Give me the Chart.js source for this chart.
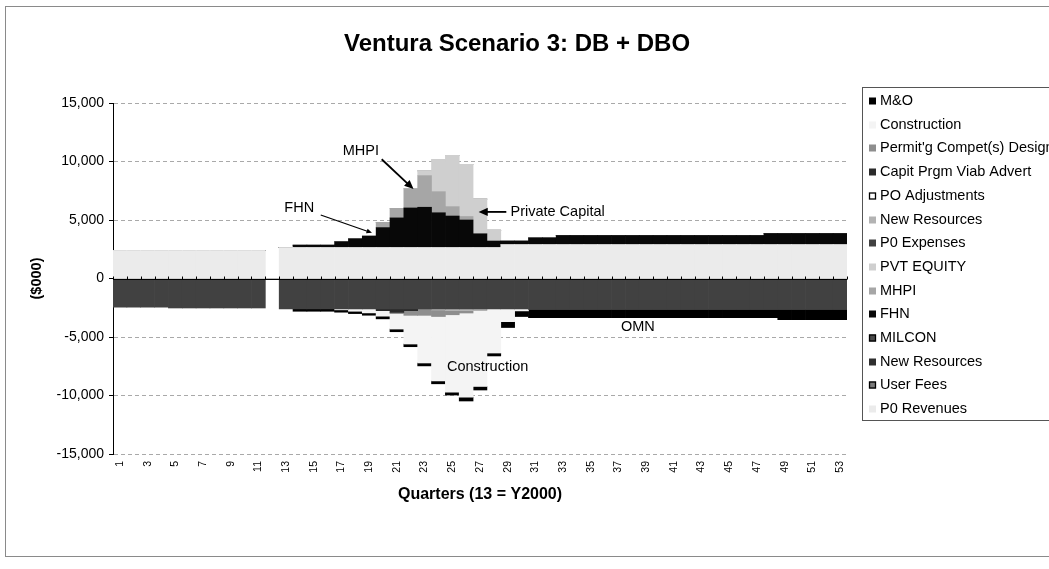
<!DOCTYPE html>
<html>
<head>
<meta charset="utf-8">
<title>Ventura Scenario 3: DB + DBO</title>
<script src="https://cdn.jsdelivr.net/npm/chart.js"></script>
<style>
	html,body{margin:0;padding:0;background:#fff;}
	#wrap{width:1049px;height:569px;overflow:hidden;background:#fff;}
</style>
</head>
<body>
<div id="wrap"><canvas id="ventura" width="1049" height="569"></canvas></div>
<script>
// quarters 1..53 (13 = Y2000)
var quarters = [1,2,3,4,5,6,7,8,9,10,11,12,13,14,15,16,17,18,19,20,
	21,22,23,24,25,26,27,28,29,30,31,32,33,34,35,36,37,38,39,40,
	41,42,43,44,45,46,47,48,49,50,51,52,53];

// ---- revenues (positive stack, bottom to top) ----
var p0Revenues = [2400,2400,2400,2400,2400,2400,2400,2400,2400,2400,
	2400,0,2650,2650,2650,2650,2650,2650,2650,2650,
	2650,2650,2650,2650,2650,2650,2650,2650,2900,2900,
	2900,2900,2900,2900,2900,2900,2900,2900,2900,2900,
	2900,2900,2900,2900,2900,2900,2900,2900,2900,2900,
	2900,2900,2900];
var userFees = [0,0,0,0,0,0,0,0,0,0, 0,0,0,0,0,0,0,0,0,0, 0,0,0,0,0,0,0,0,0,0,
	0,0,0,0,0,0,0,0,0,0, 0,0,0,0,0,0,0,0,0,0, 0,0,0];
var newResourcesIn = [0,0,0,0,0,0,0,0,0,0, 0,0,0,0,0,0,0,0,0,0, 0,0,0,0,0,0,0,0,0,0,
	0,0,0,0,0,0,0,0,0,0, 0,0,0,0,0,0,0,0,0,0, 0,0,0];
var milcon = [0,0,0,0,0,0,0,0,0,0, 0,0,0,0,0,0,0,0,0,0, 0,0,0,0,0,0,0,0,0,0,
	0,0,0,0,0,0,0,0,0,0, 0,0,0,0,0,0,0,0,0,0, 0,0,0];
var fhn = [0,0,0,0,0,0,0,0,0,0,
	0,0,0,200,200,200,500,750,970,1700,
	2530,3380,3440,2970,2690,2350,1170,550,300,300,
	580,580,780,780,780,780,780,780,780,780,
	780,780,780,780,780,780,780,950,950,950,
	950,950,950];
var mhpi = [0,0,0,0,0,0,0,0,0,0,
	0,0,0,0,0,0,0,0,0,450,
	820,1650,2700,1800,800,300,0,0,0,0,
	0,0,0,0,0,0,0,0,0,0, 0,0,0,0,0,0,0,0,0,0, 0,0,0];
var pvtEquity = [0,0,0,0,0,0,0,0,0,0,
	0,0,0,0,0,0,0,0,0,0,
	0,0,410,2710,4390,4460,2970,930,0,0,
	0,0,0,0,0,0,0,0,0,0, 0,0,0,0,0,0,0,0,0,0, 0,0,0];

// ---- expenses (negative stack, top to bottom) ----
var p0Expenses = [-2450,-2450,-2450,-2450,-2520,-2520,-2520,-2520,-2520,-2520,
	-2520,0,-2600,-2600,-2600,-2600,-2600,-2600,-2600,-2600,
	-2600,-2600,-2600,-2600,-2600,-2600,-2600,-2600,-2600,-2600,
	-2650,-2650,-2650,-2650,-2650,-2650,-2650,-2650,-2650,-2650,
	-2650,-2650,-2650,-2650,-2650,-2650,-2650,-2650,-2650,-2650,
	-2650,-2650,-2650];
var newResourcesOut = [0,0,0,0,0,0,0,0,0,0,
	0,0,0,0,0,0,0,0,0,0,
	0,0,0,-100,-150,-150,-150,0,0,0,
	0,0,0,0,0,0,0,0,0,0, 0,0,0,0,0,0,0,0,0,0, 0,0,0];
var poAdjustments = [0,0,0,0,0,0,0,0,0,0, 0,0,0,0,0,0,0,0,0,0, 0,0,0,0,0,0,0,0,0,0,
	0,0,0,0,0,0,0,0,0,0, 0,0,0,0,0,0,0,0,0,0, 0,0,0];
var capitPrgm = [0,0,0,0,0,0,0,0,0,0,
	0,0,0,0,0,0,0,0,0,-150,
	-300,-150,0,0,0,0,0,0,0,0,
	0,0,0,0,0,0,0,0,0,0, 0,0,0,0,0,0,0,0,0,0, 0,0,0];
var permitDesign = [0,0,0,0,0,0,0,0,0,0,
	0,0,0,0,0,0,0,0,0,0,
	-100,-400,-550,-550,-350,-200,0,0,0,0,
	0,0,0,0,0,0,0,0,0,0, 0,0,0,0,0,0,0,0,0,0, 0,0,0];
var construction = [0,0,0,0,0,0,0,0,0,0,
	0,0,0,0,0,0,-80,-200,-340,-470,
	-1320,-2450,-4070,-5500,-6610,-7190,-6480,-3770,-1090,-170,
	0,0,0,0,0,0,0,0,0,0, 0,0,0,0,0,0,0,0,0,0, 0,0,0];
var mAndO = [0,0,0,0,0,0,0,0,0,0,
	0,0,0,-200,-200,-200,-200,-200,-200,-230,
	-230,-230,-250,-250,-250,-330,-300,-250,-500,-480,
	-700,-700,-700,-700,-700,-700,-700,-700,-700,-700,
	-700,-700,-700,-700,-700,-700,-700,-700,-870,-870,
	-870,-870,-870];

var yTicks = [-15000,-10000,-5000,0,5000,10000,15000];

// series in stacking order (legend shows them reversed)
var seriesNames = ['P0 Revenues','User Fees','New Resources','MILCON','FHN','MHPI','PVT EQUITY',
	'P0 Expenses','New Resources','PO Adjustments','Capit Prgm Viab Advert',"Permit'g Compet(s) Design",'Construction','M&O'];
var seriesData = [p0Revenues,userFees,newResourcesIn,milcon,fhn,mhpi,pvtEquity,
	p0Expenses,newResourcesOut,poAdjustments,capitPrgm,permitDesign,construction,mAndO];
var seriesFill = ['#ebebeb','#7a7a7a','#2e2e2e','#4a4a4a','#080808','#a6a6a6','#cfcfcf',
	'#414141','#b3b3b3','#ffffff','#2a2a2a','#8e8e8e','#f4f4f4','#000000'];
var seriesStroke = [null,'#000',null,'#000',null,null,null,null,null,'#000',null,null,null,null];

// call-outs drawn on the plot: [text, quarter, value, from q, from v, to q, to v]
var notes = [
	['MHPI', 18.4, 10870, 19.9, 10190, 22.2, 7640],
	['FHN', 13.95, 6030, 15.5, 5430, 19.2, 3900],
	['Private Capital', 29.2, 5690, 28.9, 5690, 26.9, 5690],
	['Construction', 27.55, -7560],
	['OMN', 38.4, -4160]
];

var FONT = "'Liberation Sans', Arial, Helvetica, sans-serif";

function arrow(ctx, x1, y1, x2, y2, head, width){
	var a = Math.atan2(y2 - y1, x2 - x1);
	ctx.lineWidth = width;
	ctx.beginPath();
	ctx.moveTo(x1, y1);
	ctx.lineTo(x2 - Math.cos(a) * head * 0.7, y2 - Math.sin(a) * head * 0.7);
	ctx.stroke();
	ctx.beginPath();
	ctx.moveTo(x2, y2);
	ctx.lineTo(x2 - head * Math.cos(a - 0.42), y2 - head * Math.sin(a - 0.42));
	ctx.lineTo(x2 - head * Math.cos(a + 0.42), y2 - head * Math.sin(a + 0.42));
	ctx.closePath();
	ctx.fill();
}

var decoPlugin = {
	id: 'deco',
	afterDatasetsDraw: function(chart){
		var ctx = chart.ctx, xs = chart.scales.x, ys = chart.scales.y, area = chart.chartArea;
		var y0 = Math.round(ys.getPixelForValue(0)) + 0.5;
		ctx.save();
		// category axis crossing at zero
		ctx.strokeStyle = '#000';
		ctx.lineWidth = 1;
		ctx.beginPath();
		ctx.moveTo(area.left, y0);
		ctx.lineTo(area.right, y0);
		for (var i = 0; i <= quarters.length; i++){
			var tx = Math.round(xs.getPixelForValue(i - 0.5)) + 0.5;
			ctx.moveTo(tx, y0);
			ctx.lineTo(tx, y0 - 3);
		}
		ctx.stroke();
		// call-outs
		ctx.fillStyle = '#000';
		ctx.strokeStyle = '#000';
		ctx.font = '14.5px ' + FONT;
		ctx.textBaseline = 'middle';
		notes.forEach(function(n){
			var px = function(q){ return xs.getPixelForValue(q - 1); };
			var py = function(v){ return ys.getPixelForValue(v); };
			ctx.textAlign = n[0] === 'Private Capital' ? 'left' : 'center';
			ctx.fillText(n[0], px(n[1]), py(n[2]));
			if (n.length > 3){
				arrow(ctx, px(n[3]), py(n[4]), px(n[5]), py(n[6]), n[0] === 'FHN' ? 6 : 10, n[0] === 'FHN' ? 1.2 : 1.8);
			}
		});
		ctx.restore();
	},
	afterDraw: function(chart){
		var ctx = chart.ctx;
		ctx.save();
		// outer frame
		ctx.strokeStyle = '#8a8a8a';
		ctx.lineWidth = 1;
		ctx.strokeRect(5.5, 6.5, 1100, 550);
		// title
		ctx.fillStyle = '#000';
		ctx.font = 'bold 24px ' + FONT;
		ctx.textAlign = 'center';
		ctx.textBaseline = 'middle';
		ctx.fillText('Ventura Scenario 3: DB + DBO', 517, 44);
		// legend box (runs off the right edge like the original)
		ctx.strokeStyle = '#555';
		ctx.strokeRect(862.5, 87.5, 300, 333);
		ctx.font = '14.5px ' + FONT;
		ctx.textAlign = 'left';
		var sets = chart.data.datasets;
		for (var i = sets.length - 1, row = 0; i >= 0; i--, row++){
			var ly = 101 + row * 23.7;
			ctx.fillStyle = sets[i].backgroundColor;
			ctx.fillRect(869, Math.round(ly) - 3.5, 7, 7);
			if (sets[i].legendStroke){
				ctx.strokeStyle = sets[i].legendStroke;
				ctx.lineWidth = 1.3;
				ctx.strokeRect(869.5, Math.round(ly) - 3, 6, 6);
			}
			ctx.fillStyle = '#000';
			ctx.fillText(sets[i].label, 880, ly);
		}
		ctx.restore();
	}
};

var main = {
	initPage: function(){
		main.defineChart();
	},
	defineChart: function(){
		var datasets = seriesNames.map(function(name, i){
			return {
				label: name,
				data: seriesData[i],
				backgroundColor: seriesFill[i],
				legendStroke: seriesStroke[i],
				borderWidth: 0,
				barPercentage: 1,
				categoryPercentage: 1
			};
		});
		new Chart(document.getElementById('ventura'), {
			type: 'bar',
			data: { labels: quarters, datasets: datasets },
			plugins: [decoPlugin],
			options: {
				responsive: false,
				animation: false,
				layout: { padding: { left: 24, right: 202, top: 103, bottom: 61 } },
				plugins: {
					legend: { display: false },
					tooltip: { enabled: false },
					title: { display: false }
				},
				scales: {
					x: {
						stacked: true,
						grid: { display: false, drawTicks: false },
						border: { display: false },
						ticks: {
							autoSkip: false, minRotation: 90, maxRotation: 90, padding: 7,
							color: '#000', font: { family: FONT, size: 10.5 },
							callback: function(v, i){ return i % 2 === 0 ? String(quarters[i]) : ''; }
						},
						title: {
							display: true, text: 'Quarters (13 = Y2000)', color: '#000',
							font: { family: FONT, size: 16, weight: 'bold' }
						},
						afterFit: function(s){ s.height = 54; }
					},
					y: {
						stacked: true,
						min: -15000, max: 15000,
						afterBuildTicks: function(s){ s.ticks = yTicks.map(function(v){ return { value: v }; }); },
						grid: {
							color: function(c){ return c.tick && c.tick.value === 0 ? 'rgba(0,0,0,0)' : '#a9a9a9'; },
							tickColor: '#000', tickLength: 4
						},
						border: { display: true, color: '#000', width: 1, dash: [4, 3] },
						ticks: {
							padding: 5, color: '#000', font: { family: FONT, size: 14 },
							callback: function(v){ return v.toLocaleString('en-US'); }
						},
						title: {
							display: true, text: '($000)', color: '#000',
							font: { family: FONT, size: 14.5, weight: 'bold' }
						},
						afterFit: function(s){ s.width = 89; }
					}
				}
			}
		});
	}
};

main.initPage();
</script>
</body>
</html>
